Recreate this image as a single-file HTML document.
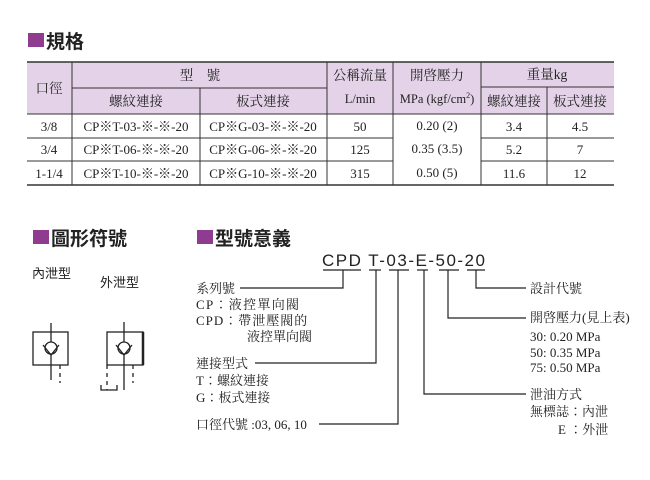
<!DOCTYPE html>
<html><head><meta charset="utf-8"><style>
body{margin:0;background:#fff;width:650px;height:480px;overflow:hidden}
svg{display:block}
.s{font-family:"Liberation Serif","Noto Serif CJK TC","Noto Serif CJK SC",serif;fill:#222}
.h{font-family:"Liberation Sans","Noto Sans CJK TC","Noto Sans CJK SC",sans-serif;fill:#222;font-weight:bold}
.k{font-family:"Liberation Sans","Noto Sans CJK TC",sans-serif;fill:#222}
</style></head><body>
<svg width="650" height="480" viewBox="0 0 650 480">
<rect x="28" y="33" width="16" height="14" fill="#8e3b90"/>
<text x="46" y="48" class="h" font-size="19">規格</text>
<rect x="27" y="62" width="587" height="52" fill="#e4d3e8"/>
<g stroke="#333" stroke-width="1" fill="none">
<line x1="27" y1="62" x2="614" y2="62" stroke-width="1.5"/>
<line x1="72" y1="88" x2="327" y2="88"/>
<line x1="481" y1="87" x2="614" y2="87"/>
<line x1="27" y1="114" x2="614" y2="114"/>
<line x1="27" y1="138" x2="393" y2="138"/>
<line x1="481" y1="138" x2="614" y2="138"/>
<line x1="27" y1="161" x2="393" y2="161"/>
<line x1="481" y1="161" x2="614" y2="161"/>
<line x1="27" y1="185" x2="614" y2="185" stroke-width="1.5"/>
<line x1="72" y1="62" x2="72" y2="185"/>
<line x1="200" y1="88" x2="200" y2="185"/>
<line x1="327" y1="62" x2="327" y2="185"/>
<line x1="393" y1="62" x2="393" y2="185"/>
<line x1="481" y1="62" x2="481" y2="185"/>
<line x1="547" y1="87" x2="547" y2="185"/>
</g>
<g class="s" font-size="13.5" text-anchor="middle">
<text x="49" y="93">口徑</text>
<text x="200" y="80">型　號</text>
<text x="136" y="106">螺紋連接</text>
<text x="263" y="106">板式連接</text>
<text x="360" y="80">公稱流量</text>
<text x="360" y="103" font-size="12.5">L/min</text>
<text x="437" y="80">開啓壓力</text>
<text x="437" y="103" font-size="12.5">MPa (kgf/cm<tspan font-size="8" dy="-5">2</tspan><tspan dy="5">)</tspan></text>
<text x="547" y="79">重量kg</text>
<text x="514" y="106">螺紋連接</text>
<text x="580" y="106">板式連接</text>
<g font-size="13">
<text x="49" y="131">3/8</text><text x="49" y="154">3/4</text><text x="49" y="178">1-1/4</text>
<text x="136" y="131">CP※T-03-※-※-20</text><text x="136" y="154">CP※T-06-※-※-20</text><text x="136" y="178">CP※T-10-※-※-20</text>
<text x="263" y="131">CP※G-03-※-※-20</text><text x="263" y="154">CP※G-06-※-※-20</text><text x="263" y="178">CP※G-10-※-※-20</text>
<text x="360" y="131">50</text><text x="360" y="154">125</text><text x="360" y="178">315</text>
<text x="437" y="130">0.20 (2)</text><text x="437" y="153">0.35 (3.5)</text><text x="437" y="177">0.50 (5)</text>
<text x="514" y="131">3.4</text><text x="514" y="154">5.2</text><text x="514" y="178">11.6</text>
<text x="580" y="131">4.5</text><text x="580" y="154">7</text><text x="580" y="178">12</text>
</g></g>
<rect x="33" y="230" width="16" height="14" fill="#8e3b90"/>
<text x="51" y="245" class="h" font-size="19">圖形符號</text>
<rect x="197" y="230" width="16" height="14" fill="#8e3b90"/>
<text x="215" y="245" class="h" font-size="19">型號意義</text>
<text x="32" y="278" class="k" font-size="13">內泄型</text>
<text x="100" y="287" class="k" font-size="13">外泄型</text>
<g stroke="#222" stroke-width="1.3" fill="none">
<rect x="33" y="332" width="35" height="33"/>
<line x1="51" y1="323" x2="51" y2="342"/>
<circle cx="51" cy="348" r="6" fill="#fff"/>
<polyline points="43,345 51,355 59,345"/>
<line x1="51" y1="354" x2="51" y2="380"/>
<line x1="60" y1="365" x2="60" y2="383" stroke-dasharray="4,4"/>
<rect x="107" y="332" width="36" height="33"/>
<line x1="143" y1="332" x2="143" y2="365" stroke-width="2.5"/>
<line x1="124" y1="322" x2="124" y2="342"/>
<circle cx="124" cy="348" r="6" fill="#fff"/>
<polyline points="116,345 124,355 132,345"/>
<line x1="124" y1="354" x2="124" y2="390"/>
<line x1="133" y1="365" x2="133" y2="383" stroke-dasharray="4,4"/>
<line x1="107" y1="365" x2="107" y2="390" stroke-dasharray="4,4"/>
<polyline points="101,385 101,390 117,390 117,385"/>
</g>
<text x="322" y="266" class="k" font-size="17" letter-spacing="1.5">CPD T-03-E-50-20</text>
<g stroke="#222" stroke-width="1.2" fill="none">
<line x1="323" y1="270" x2="361" y2="270"/><line x1="369" y1="270" x2="381" y2="270"/>
<line x1="389" y1="270" x2="409" y2="270"/><line x1="417" y1="270" x2="428" y2="270"/>
<line x1="439" y1="270" x2="459" y2="270"/><line x1="467" y1="270" x2="485" y2="270"/>
<polyline points="343,270 343,288 240,288"/>
<polyline points="376,270 376,363 255,363"/>
<polyline points="398,270 398,424 319,424"/>
<polyline points="424,270 424,394 526,394"/>
<polyline points="448,270 448,318 526,318"/>
<polyline points="476,270 476,288 526,288"/>
</g>
<g class="s" font-size="13">
<text x="196" y="293">系列號</text>
<text x="196" y="309" letter-spacing="1.3">CP：液控單向閥</text>
<text x="196" y="325" letter-spacing="1">CPD：帶泄壓閥的</text>
<text x="247" y="341">液控單向閥</text>
<text x="196" y="368">連接型式</text>
<text x="196" y="385">T：螺紋連接</text>
<text x="196" y="402">G：板式連接</text>
<text x="196" y="429">口徑代號 :03, 06, 10</text>
<text x="530" y="293">設計代號</text>
<text x="530" y="322">開啓壓力(見上表)</text>
<text x="530" y="341">30:  0.20 MPa</text>
<text x="530" y="357">50:  0.35 MPa</text>
<text x="530" y="372">75:  0.50 MPa</text>
<text x="530" y="399">泄油方式</text>
<text x="530" y="416">無標誌：內泄</text>
<text x="558" y="434">E ：外泄</text>
</g>
</svg>
</body></html>
